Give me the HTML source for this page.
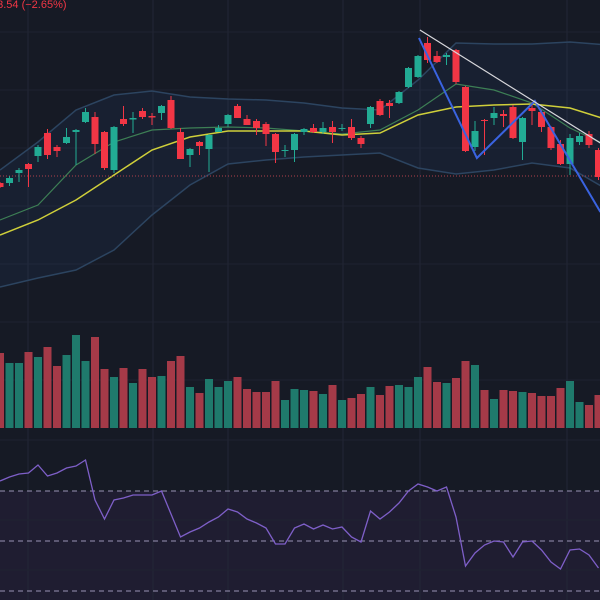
<!DOCTYPE html>
<html><head><meta charset="utf-8"><style>
html,body{margin:0;padding:0;background:#161a25;width:600px;height:600px;overflow:hidden}
svg{display:block}
</style></head><body>
<svg id="chart" width="600" height="600" xmlns="http://www.w3.org/2000/svg">
<rect x="0" y="0" width="600" height="600" fill="#161a25"/>
<rect x="0" y="491" width="600" height="109" fill="#1f1d31"/>
<g id="grid"></g>
<g id="bands"></g>
<g id="vol"></g>
<g id="candles"></g>
<g id="lines"></g>
<g id="rsi"></g>
<text x="-9" y="8" font-family="Liberation Sans, sans-serif" font-size="11" fill="#f23645">13.54 (−2.65%)</text>
</svg>
<script>
const opens=[158.5,158.5,163.5,168,172,183.5,176.5,178.5,184,189,191.5,184,165,190.5,190.25,194.5,192,193.5,200,184,172.5,179,175.5,184,188,197,190.5,189.5,188,183,174.5,175,184,186,184,186.5,185.75,186.5,181,188,199.5,198.5,198.5,206.5,211.5,228.5,222,221.5,225,206.5,176.5,190,191,193,196.5,179,196,194,186.5,178,168,179,183,175];
const closes=[156.5,161,165,165.5,176.5,172.5,174.5,181.5,185,194,178,166,186.5,188,191,191.5,191.25,197,186,170.5,175.5,177,182.5,186,192.5,191,187.5,186,183,174,175,183,185.5,184,186,184,186,181,178,196.5,192.5,197,204,216,222,220,219,222.5,209,174.5,184.5,189.5,193.5,192,181,191,194.5,186.5,176,168,181,182,177.5,161.5];
const highs=[159,162,166,168.5,177.5,185.5,177.5,186,185.5,196,194,184.5,187,197,194,196,193.5,197.5,202,186,176,179.5,183,187.5,193,198,192.5,190.5,189,183.5,177.5,183.5,186,188,189,189.5,188,190.5,182,197,200.5,200,204.5,216.5,222.5,231.5,224.5,223.5,225.5,207,189.5,190.5,196.5,195,197.5,191.5,199,195,187,180,183,183.5,184.5,176];
const lows=[156,157,159,156.5,169,170.5,171.5,178,167.5,188.5,173,165,163.5,187,183.5,190.5,187.5,190,185.5,170.5,166.5,172.5,164,184,186.5,191,187.5,182.5,177,168.5,171.5,169,182.5,183.5,183,178.5,184.5,180,176,186,192,191,198,206,211,218.5,218.5,217.5,208,174,174.5,172.5,187.5,186.5,180.5,170,187.5,184,175,167.5,162.5,177.5,176,160];
const volumes=[75,65,65,76,71,81,62,73,93,67,91,59,51,60,45,59,51,52,67,72,41,35,49,41,47,51,39,36,36,47,28,39,38,37,34,43,28,30,34,41,33,42,43,41,51,61,46,45,50,67,63,38,29,38,37,36,35,32,32,40,47,26,23,33];
const rsiValues=[66,68.4,70.2,70.8,75.6,69,70.8,73.8,75,78.6,54.6,43.2,54.6,55.8,57.6,57.6,57.6,60,46.2,32.4,35.4,37.8,41.4,44.4,49.2,47.4,43.2,40.8,37.8,28.2,28.2,37.8,40.2,37.2,39.6,37.2,38.4,32.4,29.4,48,43.2,47.4,52.8,60,64.2,62.4,60,62.4,44.4,15,22.8,27.6,30,29.4,20.4,29.4,30,24.6,17.4,13.2,24.6,25.2,21.6,13.8];
// overlays sampled every 4 candles
const upperBand=[165,179,195,202.5,204.5,201.5,200.5,200,198.5,196,195,210,228.5,228,228,229,227.5];
const lowerBand=[106.5,111,115,125,142.5,157.5,168,170,171.5,172.5,173.5,166,163,165,168.5,166,155];
const fastMA=[140,147.5,167.5,179,185,186,186.5,186,184.5,183,185,195,208,205,198.5,186,177];
const slowMA=[132.5,140,150,162.5,175,181.5,184.5,184.5,184.5,182.5,183.5,192.5,196.5,197.5,198,196,190];
const zigzagIdx=[44.1,50.2,56.3,63.2];
const zigzagPrice=[231,171,199.5,144];
const trendIdx=[44.2,63.2];
const trendPrice=[235,178.5];
const refPrice=162;
const rsiLevels=[60,30,0];

const NS="http://www.w3.org/2000/svg";
const X=i=>i*9.5;
const Y=p=>(250-p)*2;
const VY=v=>428-v;
const RY=v=>591-v*5/3;
function mk(tag,attrs,parent){const e=document.createElementNS(NS,tag);for(const k in attrs)e.setAttribute(k,attrs[k]);parent.appendChild(e);return e;}
const G=id=>document.getElementById(id);

// grid
const grid=G('grid');
[28,153,228,343,420,567].forEach(x=>{const l=mk('line',{x1:x,x2:x,y1:0,y2:600,stroke:'#232736','stroke-width':1},grid);

});
[32,90,148,206,264,322,380,440,520,570].forEach(y=>{const l=mk('line',{x1:0,x2:600,y1:y,y2:y,stroke:'#1f2331','stroke-width':1},grid);

});

// bands
const bands=G('bands');
const ptsU=upperBand.map((p,k)=>[X(k*4),Y(p)]);
const ptsL=lowerBand.map((p,k)=>[X(k*4),Y(p)]);
const fillD='M'+ptsU.map(p=>p.join(',')).join(' L')+' L'+ptsL.slice().reverse().map(p=>p.join(',')).join(' L')+' Z';
const bf=mk('path',{d:fillD,fill:'rgba(40,80,140,0.12)'},bands);


function poly(arr,stroke,w,name,par){const d=arr.map((p,k)=>X(k*4)+','+Y(p)).join(' ');const e=mk('polyline',{points:d,fill:'none',stroke:stroke,'stroke-width':w},par);

return e;}
poly(upperBand,'#2c4460',1.5,'upper-band',bands);
poly(lowerBand,'#2c4460',1.5,'lower-band',bands);
poly(fastMA,'#3d7f55',1.2,'fast-ma-line',bands);
poly(slowMA,'#cfcf3a',1.5,'slow-ma-line',bands);
const ref=mk('line',{x1:0,x2:600,y1:Y(refPrice),y2:Y(refPrice),stroke:'#b0404c','stroke-width':1,'stroke-dasharray':'1,2'},bands);



// volume
const vol=G('vol');
volumes.forEach((v,i)=>{const up=closes[i]>=opens[i];const r=mk('rect',{x:X(i)-4,y:VY(v),width:8,height:v,fill:up?'#1f7a6c':'#a53a48'},vol);

});

// candles
const cg=G('candles');
opens.forEach((o,i)=>{const c=closes[i];const up=c>=o;const col=up?'#22ab94':'#f23645';const x=X(i);
const w=mk('line',{x1:x,x2:x,y1:Y(highs[i]),y2:Y(lows[i]),stroke:col,'stroke-width':1},cg);


const top=Y(Math.max(o,c));const h=Math.max(1,Math.abs(Y(o)-Y(c)));
const b=mk('rect',{x:x-3.5,y:top,width:7,height:h,fill:col},cg);

});

// drawings
const lg=G('lines');
const zz=mk('polyline',{points:zigzagIdx.map((k,j)=>X(k)+','+Y(zigzagPrice[j])).join(' '),fill:'none',stroke:'#3a63e0','stroke-width':2},lg);


const tl=mk('line',{x1:X(trendIdx[0]),y1:Y(trendPrice[0]),x2:X(trendIdx[1]),y2:Y(trendPrice[1]),stroke:'#d8d8dc','stroke-width':1.2},lg);



// rsi
const rg=G('rsi');
rsiLevels.forEach(v=>{const l=mk('line',{x1:0,x2:600,y1:RY(v),y2:RY(v),stroke:'#9a94b5','stroke-width':1,'stroke-dasharray':'5,4'},rg);

});
const rl=mk('polyline',{points:rsiValues.map((v,i)=>X(i)+','+RY(v)).join(' '),fill:'none',stroke:'#7e5fc8','stroke-width':1.3},rg);


</script>
</body></html>
